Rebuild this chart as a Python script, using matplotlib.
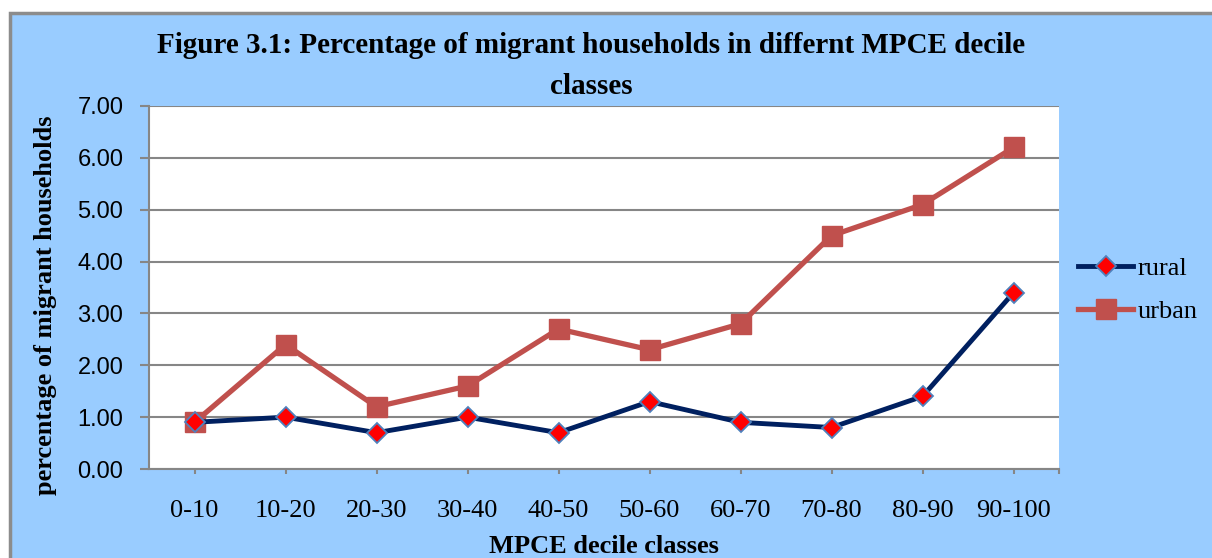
import numpy as np
import matplotlib.pyplot as plt
from matplotlib.patches import Rectangle

# data
deciles = ["0-10", "10-20", "20-30", "30-40", "40-50",
           "50-60", "60-70", "70-80", "80-90", "90-100"]
rural = [0.9, 1.0, 0.7, 1.0, 0.7, 1.3, 0.9, 0.8, 1.4, 3.4]
urban = [0.9, 2.4, 1.2, 1.6, 2.7, 2.3, 2.8, 4.5, 5.1, 6.2]
yticks = [0, 1, 2, 3, 4, 5, 6, 7]

serif = "Liberation Serif"
sans = "Liberation Sans"

fig = plt.figure(figsize=(12.12, 5.58), dpi=100, facecolor="white")
# blue chart-area background with grey border (right/bottom edges run off the page)
fig.patches.append(Rectangle((10 / 1212, -0.01), 1.0, 1 - 13 / 558 + 0.01,
                             transform=fig.transFigure, facecolor="#99CCFF",
                             edgecolor="#8C8C8C", linewidth=2.5, zorder=-10))

ax = fig.add_axes([149 / 1212, 1 - 469 / 558, 910 / 1212, 363 / 558])
ax.set_facecolor("white")

x = np.arange(len(deciles))
ax.plot(x, rural, color="#002060", linewidth=3.5, marker="D", markersize=10,
        markerfacecolor="#FF0000", markeredgecolor="#4F81BD", markeredgewidth=1.3,
        label="rural", zorder=4)
ax.plot(x, urban, color="#C0504D", linewidth=3.8, marker="s", markersize=14,
        markerfacecolor="#C0504D", markeredgecolor="#C0504D",
        label="urban", zorder=3)

ax.set_xlim(-0.5, len(deciles) - 0.5)
ax.set_ylim(0, 7)
ax.set_yticks(yticks)
ax.set_yticklabels([f"{v:.2f}" for v in yticks], fontfamily=sans, fontsize=17)
ax.set_xticks(x)
ax.set_xticks([len(deciles) - 0.5], minor=True)
ax.set_xticklabels(deciles, fontfamily=serif, fontsize=19)
ax.yaxis.grid(True, color="#868686", linewidth=1.5)
ax.set_axisbelow(True)
for s in ["top", "right"]:
    ax.spines[s].set_visible(False)
for s in ["left", "bottom"]:
    ax.spines[s].set_color("#868686")
    ax.spines[s].set_linewidth(1.5)
ax.tick_params(axis="y", direction="out", length=6.5, width=1.5, color="#868686", pad=12)
ax.tick_params(axis="x", which="both", direction="out", length=3.5, width=1.5,
               color="#868686", pad=19)

ax.set_xlabel("MPCE decile classes", fontfamily=serif, fontsize=19,
              fontweight="bold", labelpad=9)
ax.set_ylabel("percentage of migrant households", fontfamily=serif, fontsize=19,
              fontweight="bold")
ax.yaxis.set_label_coords(-0.101, 0.452)

fig.text(591 / 1212, 1 - 66 / 558,
         "Figure 3.1: Percentage of migrant households in differnt MPCE decile\nclasses",
         ha="center", va="center", fontfamily=serif, fontsize=21,
         fontweight="bold", linespacing=1.7)

leg = fig.legend(loc="center left", bbox_to_anchor=(1078 / 1212, 1 - 290 / 558),
                 frameon=False, prop={"family": serif, "size": 19},
                 borderpad=0, borderaxespad=0,
                 handlelength=2.1, handletextpad=0.15, labelspacing=0.75)

fig.savefig("out.png", dpi=100)
